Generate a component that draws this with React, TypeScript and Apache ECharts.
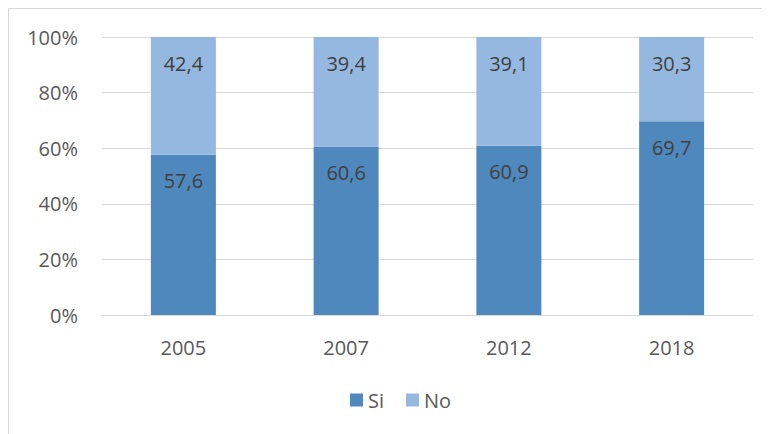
import React, { useEffect, useRef } from "react";
import * as echarts from "echarts";

const categories = ["2005", "2007", "2012", "2018"];
const siValues = [57.6, 60.6, 60.9, 69.7];
const noValues = [42.4, 39.4, 39.1, 30.3];
const seriesNames = ["Si", "No"];
const yTicks = [0, 20, 40, 60, 80, 100];

const FONT = "'Open Sans', 'Noto Sans', sans-serif";

export default function App() {
  const ref = useRef<HTMLDivElement>(null);
  useEffect(() => {
    if (!ref.current) return;
    const chart = echarts.init(ref.current, undefined, { renderer: "svg" });
    const label = {
      show: true,
      position: "insideTop",
      distance: 16,
      color: "#404040",
      fontSize: 20,
      fontFamily: FONT,
      formatter: (p: any) => String(p.value).replace(".", ","),
    };
    chart.setOption({
      animation: false,
      textStyle: { fontFamily: FONT },
      grid: { left: 93, top: 28, width: 651, height: 278, containLabel: false },
      legend: {
        left: 336,
        top: 376,
        itemWidth: 13,
        itemHeight: 13,
        itemGap: 22,
        icon: "rect",
        textStyle: { color: "#595959", fontSize: 20, fontFamily: FONT },
        data: seriesNames,
      },
      xAxis: {
        type: "category",
        data: categories,
        axisTick: { show: false },
        axisLine: { lineStyle: { color: "#d9d9d9", width: 1 } },
        axisLabel: { color: "#595959", fontSize: 20, fontFamily: FONT, margin: 22 },
      },
      yAxis: {
        type: "value",
        min: yTicks[0],
        max: yTicks[yTicks.length - 1],
        interval: 20,
        axisLine: { show: false },
        axisTick: { show: false },
        splitLine: { lineStyle: { color: "#d9d9d9", width: 1 } },
        axisLabel: {
          color: "#595959",
          fontSize: 20,
          fontFamily: FONT,
          margin: 24,
          formatter: (v: number) => v + "%",
        },
      },
      series: [
        {
          name: seriesNames[0],
          type: "bar",
          stack: "total",
          data: siValues,
          barWidth: 65,
          itemStyle: { color: "#4F88BD" },
          label,
        },
        {
          name: seriesNames[1],
          type: "bar",
          stack: "total",
          data: noValues,
          barWidth: 65,
          itemStyle: { color: "#95B8E0" },
          label,
        },
      ],
    });
    return () => chart.dispose();
  }, []);
  return (
    <div
      style={{
        width: 790,
        height: 450,
        border: "1px solid #d9d9d9",
        boxSizing: "border-box",
        background: "#fff",
      }}
    >
      <div ref={ref} style={{ width: 788, height: 448 }} />
    </div>
  );
}
